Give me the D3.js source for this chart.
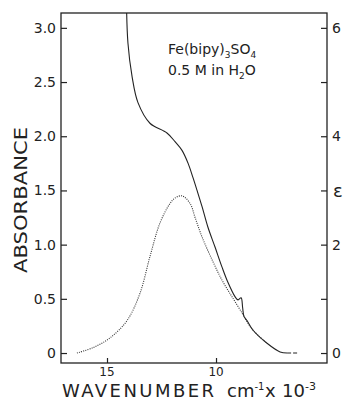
<!DOCTYPE html>
<html>
<head>
<meta charset="utf-8">
<script src="https://cdn.jsdelivr.net/npm/d3@7"></script>
<style>
  body { margin: 0; background: #fff; }
  text { font-family: "DejaVu Sans", sans-serif; fill: #222; }
</style>
</head>
<body>
<script>
var width = 345,
    height = 405;

// solid curve (absorbance), wavenumber in 10^3 cm-1
var solidWn  = [14.11, 14.04, 13.85, 13.58, 13.03, 12.25, 11.88, 11.56, 11.28, 11.06, 10.87, 10.64, 10.37, 10.05, 9.72, 9.45, 9.13, 8.99, 8.85, 8.78, 8.72, 8.58, 8.30, 7.66, 7.06, 6.74];
var solidAbs = [3.26, 2.86, 2.55, 2.31, 2.12, 2.03, 1.95, 1.87, 1.75, 1.62, 1.50, 1.35, 1.16, 0.98, 0.79, 0.65, 0.52, 0.49, 0.51, 0.42, 0.34, 0.30, 0.21, 0.09, 0.01, 0.0];

// dashed tail of the solid curve
var tailWn  = [6.74, 6.24];
var tailAbs = [0.0, 0.0];

// dotted curve (epsilon)
var dotWn  = [16.38, 15.64, 14.86, 14.08, 13.49, 13.03, 12.57, 12.11, 11.88, 11.56, 11.19, 10.96, 10.64, 10.18, 9.72, 9.27, 8.81, 8.58, 8.30, 7.66];
var dotAbs = [0.0, 0.05, 0.14, 0.30, 0.55, 0.89, 1.20, 1.38, 1.43, 1.45, 1.38, 1.25, 1.07, 0.86, 0.67, 0.52, 0.37, 0.29, 0.21, 0.09];

var xTicks = [15, 10];
var yTicks = [0, 0.5, 1.0, 1.5, 2.0, 2.5, 3.0];
var yTickLabels = ["0", "0.5", "1.0", "1.5", "2.0", "2.5", "3.0"];
var rTicks = [0, 1, 2, 3, 4, 5, 6];
var rTickLabels = {0: "0", 2: "2", 4: "4", 6: "6"};

var pLeft = 61, pRight = 327, pTop = 13, pBottom = 363;

var x = d3.scaleLinear().domain([17.11, 4.91]).range([pLeft, pRight]);
var y = d3.scaleLinear().domain([-0.092, 3.137]).range([pBottom, pTop]);
var yR = d3.scaleLinear().domain([-0.184, 6.274]).range([pBottom, pTop]);

var svg = d3.select("body").append("svg")
    .attr("width", width)
    .attr("height", height);

svg.append("defs").append("clipPath").attr("id", "plot")
  .append("rect")
    .attr("x", pLeft).attr("y", pTop)
    .attr("width", pRight - pLeft).attr("height", pBottom - pTop);

// frame
svg.append("rect")
    .attr("x", pLeft).attr("y", pTop)
    .attr("width", pRight - pLeft).attr("height", pBottom - pTop)
    .attr("fill", "none")
    .attr("stroke", "#222")
    .attr("stroke-width", 1.3);

// left axis
var yAxis = d3.axisRight(y)
    .tickValues(yTicks)
    .tickSize(6)
    .tickFormat("");
svg.append("g")
    .attr("transform", "translate(" + pLeft + ",0)")
    .call(yAxis)
    .call(function(g) { g.select(".domain").remove(); })
    .selectAll("line").attr("stroke", "#222").attr("stroke-width", 1.2);

svg.selectAll(".ylab")
  .data(yTicks)
  .enter().append("text")
    .attr("class", "ylab")
    .attr("x", 56)
    .attr("y", function(d) { return y(d); })
    .attr("dy", "0.36em")
    .attr("text-anchor", "end")
    .style("font-size", "14px")
    .text(function(d, i) { return yTickLabels[i]; });

// right axis
var rAxis = d3.axisLeft(yR)
    .tickValues(rTicks)
    .tickSize(6)
    .tickFormat("");
svg.append("g")
    .attr("transform", "translate(" + pRight + ",0)")
    .call(rAxis)
    .call(function(g) { g.select(".domain").remove(); })
    .selectAll("line").attr("stroke", "#222").attr("stroke-width", 1.2);

svg.selectAll(".rlab")
  .data(rTicks.filter(function(d) { return rTickLabels[d]; }))
  .enter().append("text")
    .attr("class", "rlab")
    .attr("x", 332)
    .attr("y", function(d) { return yR(d); })
    .attr("dy", "0.36em")
    .style("font-size", "14px")
    .text(function(d) { return rTickLabels[d]; });

svg.append("text")
    .attr("x", 333)
    .attr("y", yR(3))
    .attr("dy", "0.36em")
    .style("font-size", "18px")
    .text("\u03B5");

// bottom axis
var xAxis = d3.axisTop(x)
    .tickValues(xTicks)
    .tickSize(5)
    .tickFormat("");
svg.append("g")
    .attr("transform", "translate(0," + pBottom + ")")
    .call(xAxis)
    .call(function(g) { g.select(".domain").remove(); })
    .selectAll("line").attr("stroke", "#222").attr("stroke-width", 1.2);

svg.selectAll(".xlab")
  .data(xTicks)
  .enter().append("text")
    .attr("class", "xlab")
    .attr("x", function(d) { return x(d); })
    .attr("y", 376)
    .attr("text-anchor", "middle")
    .style("font-size", "12px")
    .text(function(d) { return d; });

// axis titles
svg.append("text")
    .attr("transform", "translate(27,200) rotate(-90)")
    .attr("text-anchor", "middle")
    .attr("textLength", 146)
    .attr("lengthAdjust", "spacingAndGlyphs")
    .style("font-size", "18px")
    .text("ABSORBANCE");

svg.append("text")
    .attr("x", 62)
    .attr("y", 397)
    .attr("textLength", 152)
    .attr("lengthAdjust", "spacing")
    .style("font-size", "18px")
    .text("WAVENUMBER");

var xt = svg.append("text")
    .attr("x", 227)
    .attr("y", 397)
    .style("font-size", "18px");
xt.append("tspan").text("cm");
xt.append("tspan").attr("dy", -7).style("font-size", "10px").text("-1");
xt.append("tspan").attr("x", 265).attr("dy", 7).text("x");
xt.append("tspan").attr("x", 282).text("10");
xt.append("tspan").attr("dy", -7).style("font-size", "11px").text("-3");

// annotation
var t1 = svg.append("text").attr("x", 168).attr("y", 54).style("font-size", "14px");
t1.append("tspan").text("Fe(bipy)");
t1.append("tspan").attr("dy", 4).style("font-size", "9px").text("3");
t1.append("tspan").attr("dy", -4).text("SO");
t1.append("tspan").attr("dy", 4).style("font-size", "9px").text("4");

var t2 = svg.append("text").attr("x", 168).attr("y", 75).style("font-size", "14px");
t2.append("tspan").text("0.5 M  in H");
t2.append("tspan").attr("dy", 4).style("font-size", "9px").text("2");
t2.append("tspan").attr("dy", -4).text("O");

// curves
var line = d3.line()
    .x(function(d) { return x(d[0]); })
    .y(function(d) { return y(d[1]); })
    .curve(d3.curveCatmullRom.alpha(0.5));

var plot = svg.append("g").attr("clip-path", "url(#plot)");

plot.append("path")
    .datum(d3.zip(solidWn, solidAbs))
    .attr("d", line)
    .attr("fill", "none")
    .attr("stroke", "#222")
    .attr("stroke-width", 1.1);

plot.append("path")
    .datum(d3.zip(tailWn, tailAbs))
    .attr("d", line)
    .attr("fill", "none")
    .attr("stroke", "#222")
    .attr("stroke-width", 1.1)
    .attr("stroke-dasharray", "4,2");

plot.append("path")
    .datum(d3.zip(dotWn, dotAbs))
    .attr("d", line)
    .attr("fill", "none")
    .attr("stroke", "#333")
    .attr("stroke-width", 1.1)
    .attr("stroke-dasharray", "1,1.2");
</script>
</body>
</html>
